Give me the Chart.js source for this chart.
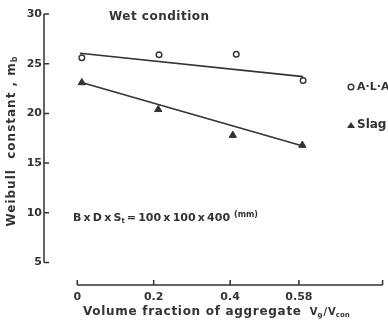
<!DOCTYPE html>
<html>
<head>
<meta charset="utf-8">
<script src="https://cdn.jsdelivr.net/npm/chart.js@4/dist/chart.umd.min.js"></script>
<style>
html,body{margin:0;padding:0;background:#fff;}
canvas{display:block;}
</style>
</head>
<body>
<canvas id="c" width="388" height="325"></canvas>
<script>
// ---- data ----
const xTickValues = [0, 0.2, 0.4, 0.58];
const yTickValues = [5, 10, 15, 20, 25, 30];
const alaX = [0.012, 0.214, 0.416, 0.591];
const alaY = [25.6, 25.9, 25.95, 23.3];
const slagX = [0.012, 0.212, 0.407, 0.589];
const slagY = [23.1, 20.4, 17.8, 16.8];
const alaFitX = [0.007, 0.591];
const alaFitY = [26.05, 23.7];
const slagFitX = [0.007, 0.588];
const slagFitY = [23.15, 16.75];

const INK = '#333333';
const FONT = '"DejaVu Sans", sans-serif';

function pts(xs, ys) { return xs.map((x, i) => ({ x: x, y: ys[i] })); }

function ls(ctx, v) { if ('letterSpacing' in ctx) ctx.letterSpacing = v + 'px'; }

const decorPlugin = {
  id: 'decor',
  afterDraw(chart) {
    const ctx = chart.ctx;
    const xs = chart.scales.x, ys = chart.scales.y;
    const ca = chart.chartArea;
    ctx.save();
    ctx.strokeStyle = INK;
    ctx.fillStyle = INK;
    ctx.lineWidth = 1.5;
    // y axis
    const ax = ca.left;
    ctx.beginPath();
    ctx.moveTo(ax, ys.getPixelForValue(yTickValues[yTickValues.length - 1]));
    ctx.lineTo(ax, ys.getPixelForValue(yTickValues[0]));
    yTickValues.forEach(v => {
      const p = ys.getPixelForValue(v);
      ctx.moveTo(ax, p); ctx.lineTo(ax + 5, p);
    });
    ctx.stroke();
    // x axis
    const ay = ca.bottom;
    ctx.beginPath();
    ctx.moveTo(xs.getPixelForValue(xTickValues[0]), ay);
    ctx.lineTo(ca.right, ay);
    xTickValues.forEach(v => {
      const p = xs.getPixelForValue(v);
      ctx.moveTo(p, ay); ctx.lineTo(p, ay - 5);
    });
    ctx.moveTo(ca.right, ay); ctx.lineTo(ca.right, ay - 5);
    ctx.stroke();

    // titles
    ctx.textBaseline = 'middle';
    ctx.textAlign = 'left';
    ctx.font = 'bold 12px ' + FONT;
    ls(ctx, 0.5);
    ctx.fillText('Wet condition', 109, 17);

    // x title
    let x = 83, y = 312;
    ctx.font = 'bold 12px ' + FONT;
    ls(ctx, 0.7);
    const t1 = 'Volume fraction of aggregate';
    ctx.fillText(t1, x, y);
    x += ctx.measureText(t1).width + 8;
    ls(ctx, 0);
    ctx.font = 'bold 10px ' + FONT;
    ctx.fillText('V', x, y); x += ctx.measureText('V').width;
    ctx.font = 'bold 7px ' + FONT;
    ctx.fillText('g', x, y + 3); x += ctx.measureText('g').width + 1;
    ctx.font = 'bold 10px ' + FONT;
    ctx.fillText('/', x, y); x += ctx.measureText('/').width + 1;
    ctx.fillText('V', x, y); x += ctx.measureText('V').width;
    ctx.font = 'bold 7px ' + FONT;
    ctx.fillText('con', x, y + 3);

    // y title (rotated)
    ctx.save();
    ctx.translate(12, 141);
    ctx.rotate(-Math.PI / 2);
    ctx.font = 'bold 12px ' + FONT;
    ls(ctx, 1);
    const yt = 'Weibull  constant , m';
    const w1 = ctx.measureText(yt).width;
    ctx.font = 'bold 8px ' + FONT;
    const w2 = ctx.measureText('b').width;
    let sx = -(w1 + w2) / 2;
    ctx.font = 'bold 12px ' + FONT;
    ctx.fillText(yt, sx, 0);
    ctx.font = 'bold 8px ' + FONT;
    ctx.fillText('b', sx + w1, 3);
    ctx.restore();

    // annotation
    x = 73; y = 218;
    ls(ctx, 0);
    const th = '\u2009';
    ctx.font = 'bold 11px ' + FONT;
    const t0 = 'B' + th + 'x' + th + 'D' + th + 'x' + th + 'S';
    ctx.fillText(t0, x, y); x += ctx.measureText(t0).width;
    ctx.font = 'bold 7px ' + FONT;
    ctx.fillText('t', x, y + 3); x += ctx.measureText('t').width + 2;
    ctx.font = 'bold 11px ' + FONT;
    const t2 = '=' + th + '100' + th + 'x' + th + '100' + th + 'x' + th + '400';
    ctx.fillText(t2, x, y); x += ctx.measureText(t2).width + 4;
    ctx.font = 'bold 8px ' + FONT;
    ctx.fillText('(mm)', x, y - 3);

    // legend
    ctx.lineWidth = 1.4;
    ctx.beginPath();
    ctx.arc(351, 87, 2.8, 0, Math.PI * 2);
    ctx.stroke();
    ctx.font = 'bold 11px ' + FONT;
    ctx.fillText('A·L·A', 357, 87);
    ctx.beginPath();
    ctx.moveTo(351, 122); ctx.lineTo(355, 128); ctx.lineTo(347, 128); ctx.closePath();
    ctx.fill();
    ctx.font = 'bold 12px ' + FONT;
    ctx.fillText('Slag', 357, 125);
    ctx.restore();
  }
};

new Chart(document.getElementById('c'), {
  type: 'scatter',
  data: {
    datasets: [
      { label: 'A-L-A fit', data: pts(alaFitX, alaFitY), showLine: true, pointRadius: 0,
        borderColor: INK, borderWidth: 1.6, fill: false },
      { label: 'Slag fit', data: pts(slagFitX, slagFitY), showLine: true, pointRadius: 0,
        borderColor: INK, borderWidth: 1.6, fill: false },
      { label: 'A-L-A', data: pts(alaX, alaY), showLine: false, pointStyle: 'circle',
        pointRadius: 2.8, pointBorderWidth: 1.4, pointBorderColor: INK, pointBackgroundColor: '#fff' },
      { label: 'Slag', data: pts(slagX, slagY), showLine: false, pointStyle: 'triangle',
        pointRadius: 4.2, pointBorderWidth: 1, pointBorderColor: INK, pointBackgroundColor: INK }
    ]
  },
  options: {
    responsive: false,
    animation: false,
    devicePixelRatio: 1,
    layout: { padding: { top: 14, right: 3, left: 0, bottom: 0 } },
    plugins: { legend: { display: false }, tooltip: { enabled: false } },
    scales: {
      x: {
        type: 'linear', min: -0.087, max: 0.799,
        afterBuildTicks: s => { s.ticks = xTickValues.map(v => ({ value: v })); },
        afterFit: s => { s.height = 40; },
        grid: { display: false, drawTicks: false },
        border: { display: false },
        ticks: { padding: 6, color: INK, font: { family: FONT, size: 11, weight: 'bold' },
                 callback: v => String(v), maxRotation: 0, autoSkip: false }
      },
      y: {
        type: 'linear', min: 2.74, max: 30,
        afterBuildTicks: s => { s.ticks = yTickValues.map(v => ({ value: v })); },
        afterFit: s => { s.width = 44; },
        grid: { display: false, drawTicks: false },
        border: { display: false },
        ticks: { padding: 2, color: INK, font: { family: FONT, size: 11, weight: 'bold' },
                 callback: v => String(v), autoSkip: false }
      }
    }
  },
  plugins: [decorPlugin]
});
</script>
</body>
</html>
